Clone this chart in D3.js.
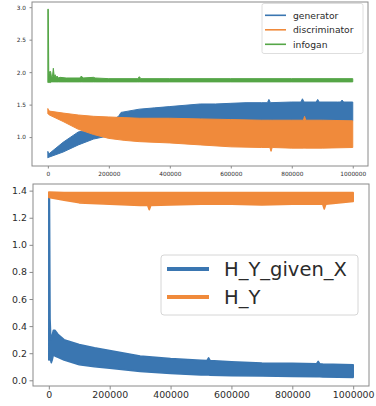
<!DOCTYPE html>
<html><head><meta charset="utf-8">
<script src="https://cdn.jsdelivr.net/npm/d3@7"></script>
<style>html,body{margin:0;padding:0;background:#fff}svg{display:block}text{font-family:"DejaVu Sans",sans-serif}</style>
</head><body>
<svg id="c" width="376" height="406"></svg>
<script>
// ---- Top panel data (training losses) ----
const topXTicks = [0, 200000, 400000, 600000, 800000, 1000000];
const topYTicks = [1.0, 1.5, 2.0, 2.5, 3.0];

const genSteps = [0, 3000, 50000, 100000, 150000, 200000, 225000, 232000, 240000, 300000, 350000, 400000, 450000, 500000, 550000, 600000, 650000, 700000, 720000, 725000, 730000, 800000, 830000, 835000, 840000, 880000, 885000, 890000, 950000, 960000, 965000, 970000, 1000000];
const genUpper = [0.78, 0.74, 0.92, 1.08, 1.12, 1.22, 1.30, 1.32, 1.38, 1.43, 1.45, 1.47, 1.49, 1.51, 1.51, 1.52, 1.53, 1.53, 1.53, 1.58, 1.53, 1.54, 1.54, 1.59, 1.54, 1.54, 1.58, 1.54, 1.54, 1.54, 1.57, 1.54, 1.54];
const genLower = [0.68, 0.69, 0.77, 0.88, 0.97, 1.02, 1.05, 1.06, 1.07, 1.10, 1.15, 1.20, 1.25, 1.25, 1.25, 1.25, 1.25, 1.25, 1.25, 1.25, 1.25, 1.25, 1.25, 1.25, 1.25, 1.25, 1.25, 1.25, 1.25, 1.25, 1.25, 1.25, 1.25];

const discSteps = [0, 2000, 5000, 50000, 100000, 150000, 200000, 250000, 300000, 400000, 500000, 600000, 700000, 728000, 732000, 736000, 800000, 838000, 842000, 846000, 900000, 1000000];
const discUpper = [1.44, 1.42, 1.40, 1.37, 1.34, 1.32, 1.31, 1.30, 1.29, 1.29, 1.28, 1.27, 1.26, 1.26, 1.26, 1.26, 1.26, 1.26, 1.32, 1.26, 1.26, 1.25];
const discLower = [1.36, 1.35, 1.34, 1.24, 1.12, 1.04, 0.98, 0.95, 0.93, 0.91, 0.88, 0.85, 0.84, 0.84, 0.78, 0.84, 0.83, 0.83, 0.83, 0.83, 0.83, 0.84];

const infoSteps = [0, 1500, 3000, 6000, 9000, 12000, 15000, 18000, 21000, 24000, 27000, 30000, 35000, 40000, 60000, 105000, 110000, 115000, 150000, 155000, 200000, 295000, 300000, 305000, 400000, 600000, 800000, 1000000];
const infoUpper = [2.97, 2.97, 1.95, 2.01, 2.01, 1.92, 1.93, 2.06, 1.93, 1.96, 1.91, 1.94, 1.91, 1.92, 1.91, 1.91, 1.94, 1.91, 1.92, 1.91, 1.90, 1.90, 1.93, 1.90, 1.90, 1.90, 1.90, 1.90];
const infoLower = [1.84, 1.84, 1.84, 1.84, 1.84, 1.85, 1.85, 1.85, 1.85, 1.85, 1.85, 1.85, 1.85, 1.85, 1.85, 1.85, 1.85, 1.85, 1.85, 1.85, 1.85, 1.85, 1.85, 1.85, 1.85, 1.85, 1.85, 1.85];

const topSeriesNames = ["generator", "discriminator", "infogan"];

// ---- Bottom panel data (entropies) ----
const botXTicks = [0, 200000, 400000, 600000, 800000, 1000000];
const botYTicks = [0.0, 0.2, 0.4, 0.6, 0.8, 1.0, 1.2, 1.4];

const hyxSteps = [0, 2000, 4000, 6000, 8000, 11000, 15000, 20000, 30000, 50000, 100000, 150000, 200000, 300000, 400000, 500000, 520000, 525000, 530000, 600000, 700000, 800000, 880000, 885000, 890000, 900000, 1000000];
const hyxUpper = [1.37, 1.37, 0.45, 0.34, 0.30, 0.33, 0.37, 0.37, 0.34, 0.30, 0.265, 0.24, 0.22, 0.18, 0.16, 0.148, 0.146, 0.165, 0.145, 0.136, 0.128, 0.126, 0.122, 0.14, 0.122, 0.12, 0.115];
const hyxLower = [0.15, 0.15, 0.16, 0.15, 0.13, 0.15, 0.19, 0.18, 0.17, 0.15, 0.115, 0.10, 0.09, 0.065, 0.05, 0.04, 0.039, 0.039, 0.038, 0.034, 0.032, 0.028, 0.026, 0.026, 0.026, 0.025, 0.022];

const hySteps = [0, 50000, 100000, 200000, 300000, 325000, 330000, 335000, 400000, 500000, 600000, 700000, 800000, 900000, 905000, 910000, 1000000];
const hyUpper = [1.39, 1.385, 1.385, 1.385, 1.385, 1.385, 1.385, 1.385, 1.385, 1.385, 1.385, 1.385, 1.385, 1.385, 1.385, 1.385, 1.385];
const hyLower = [1.35, 1.33, 1.31, 1.30, 1.29, 1.29, 1.26, 1.29, 1.295, 1.30, 1.30, 1.295, 1.30, 1.30, 1.265, 1.30, 1.32];

const botSeriesNames = ["H_Y_given_X", "H_Y"];

const colors = {blue: "#3a76b1", orange: "#f08a3b", green: "#55a647"};

const svg = d3.select("#c");
const frameColor = "#8a8a8a";
const textColor = "#2b2b2b";

function band(g, x, y, steps, lower, upper, color, sw) {
  const rows = steps.map((s, i) => ({s, lo: lower[i], hi: upper[i]}));
  g.append("path").datum(rows)
    .attr("d", d3.area().x(d => x(d.s)).y0(d => y(d.lo)).y1(d => y(d.hi)))
    .attr("fill", color).attr("stroke", color).attr("stroke-width", sw)
    .attr("stroke-linejoin", "round");
}

function panel(opts) {
  const {L, R, T, B, xDom, yDom, xTicks, yTicks, yFmt, fs, tick} = opts;
  const x = d3.scaleLinear().domain(xDom).range([L, R]);
  const y = d3.scaleLinear().domain(yDom).range([B, T]);
  const g = svg.append("g");
  const ax = g.append("g").attr("transform", `translate(0,${B})`)
    .call(d3.axisBottom(x).tickValues(xTicks).tickFormat(d3.format("d")).tickSize(tick).tickPadding(opts.padX));
  const ay = g.append("g").attr("transform", `translate(${L},0)`)
    .call(d3.axisLeft(y).tickValues(yTicks).tickFormat(d3.format(yFmt)).tickSize(tick).tickPadding(opts.padY));
  [ax, ay].forEach(a => {
    a.select(".domain").remove();
    a.selectAll("line").attr("stroke", frameColor);
    a.selectAll("text").attr("fill", textColor).style("font-size", fs + "px").style("font-family", '"DejaVu Sans",sans-serif');
  });
  const plot = g.append("g");
  g.append("rect").attr("x", L).attr("y", T).attr("width", R - L).attr("height", B - T)
    .attr("fill", "none").attr("stroke", frameColor).attr("stroke-width", 1);
  return {x, y, plot, g};
}

// ---- Top panel ----
const P1 = panel({L: 32, R: 368, T: 2, B: 166, xDom: [-52000, 1050000], yDom: [0.555, 3.08],
  xTicks: topXTicks, yTicks: topYTicks, yFmt: ".1f", fs: 5.8, tick: 2.5, padX: 3, padY: 3.5});
band(P1.plot, P1.x, P1.y, genSteps, genLower, genUpper, colors.blue, 1);
band(P1.plot, P1.x, P1.y, discSteps, discLower, discUpper, colors.orange, 1);
band(P1.plot, P1.x, P1.y, infoSteps, infoLower, infoUpper, colors.green, 1);

// top legend
const lg1 = P1.g.append("g");
lg1.append("rect").attr("x", 262).attr("y", 3.5).attr("width", 101).attr("height", 50).attr("rx", 2)
  .attr("fill", "#fff").attr("fill-opacity", 0.85).attr("stroke", "#d6d6d6").attr("stroke-width", 0.8);
const lg1Colors = [colors.blue, colors.orange, colors.green];
topSeriesNames.forEach((n, i) => {
  const yy = 15.3 + i * 14.5;
  lg1.append("line").attr("x1", 265).attr("x2", 286).attr("y1", yy).attr("y2", yy)
    .attr("stroke", lg1Colors[i]).attr("stroke-width", 1.6);
  lg1.append("text").attr("x", 293).attr("y", yy).attr("dy", "0.35em").attr("fill", textColor)
    .style("font-size", "9.2px").text(n);
});

// ---- Bottom panel ----
const P2 = panel({L: 33, R: 369, T: 184, B: 386, xDom: [-52000, 1052000], yDom: [-0.042, 1.449],
  xTicks: botXTicks, yTicks: botYTicks, yFmt: ".1f", fs: 9.4, tick: 3.5, padX: 2, padY: 2.5});
band(P2.plot, P2.x, P2.y, hyxSteps, hyxLower, hyxUpper, colors.blue, 1.6);
band(P2.plot, P2.x, P2.y, hySteps, hyLower, hyUpper, colors.orange, 1.6);

const lg2 = P2.g.append("g");
lg2.append("rect").attr("x", 161).attr("y", 255).attr("width", 197).attr("height", 60).attr("rx", 3)
  .attr("fill", "#fff").attr("fill-opacity", 0.85).attr("stroke", "#d6d6d6").attr("stroke-width", 1);
const lg2Colors = [colors.blue, colors.orange];
botSeriesNames.forEach((n, i) => {
  const yy = 269 + i * 28;
  lg2.append("line").attr("x1", 167).attr("x2", 209).attr("y1", yy).attr("y2", yy)
    .attr("stroke", lg2Colors[i]).attr("stroke-width", 4);
  lg2.append("text").attr("x", 224).attr("y", yy).attr("dy", "0.35em").attr("fill", textColor)
    .style("font-size", "19.5px").text(n);
});
</script>
</body></html>
